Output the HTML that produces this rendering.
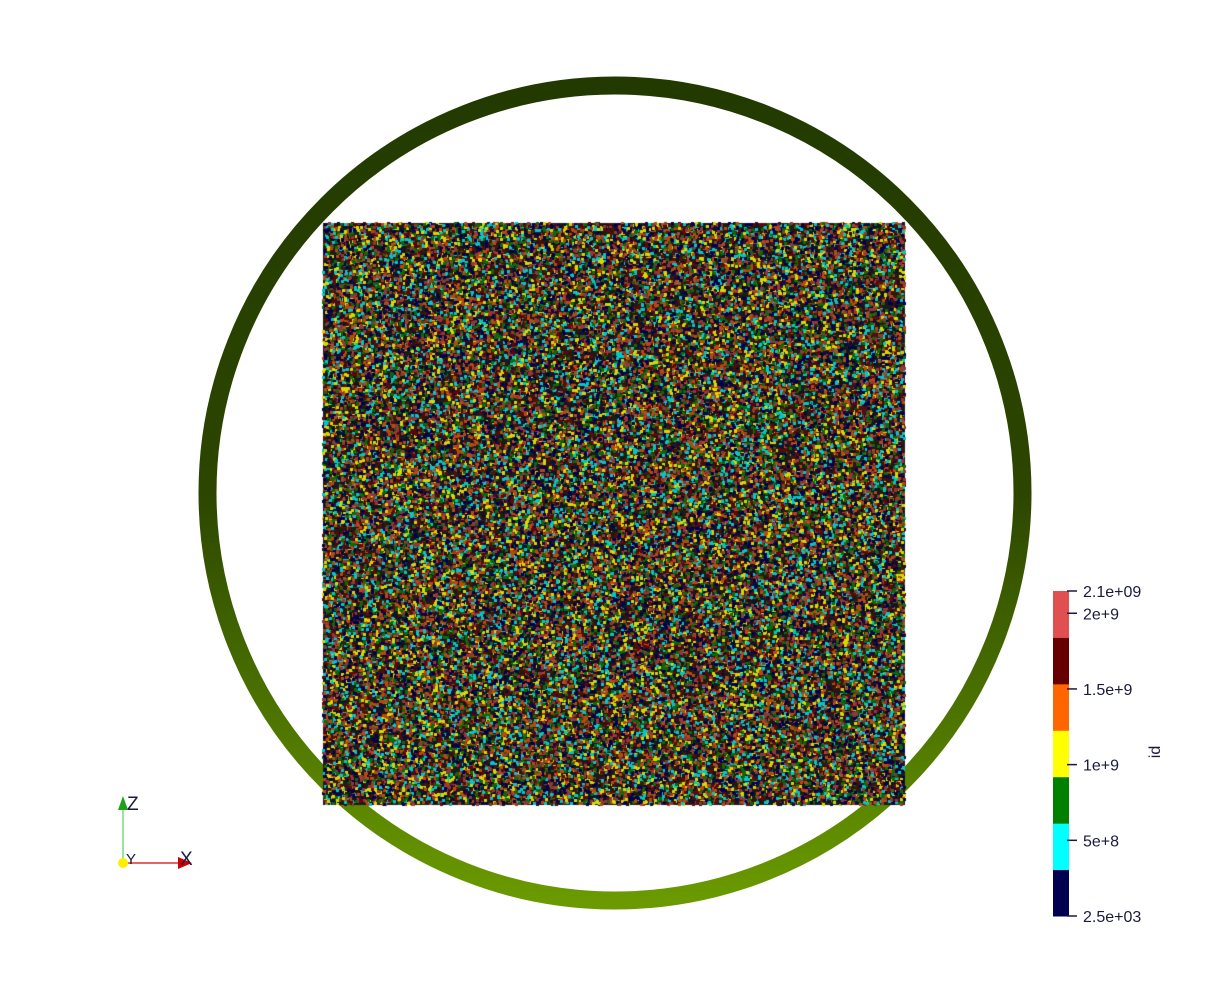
<!DOCTYPE html>
<html><head><meta charset="utf-8"><style>
html,body{margin:0;padding:0;background:#fff;}
body{width:1229px;height:988px;position:relative;overflow:hidden;font-family:"Liberation Sans",sans-serif;}
</style></head><body>
<svg id="scene" width="1229" height="988" style="position:absolute;left:0;top:0">
<defs>
<linearGradient id="ringGrad" x1="0" y1="0" x2="0" y2="1">
<stop offset="0" stop-color="#223a00"/><stop offset="0.5" stop-color="#2c4600"/><stop offset="0.75" stop-color="#4a7000"/><stop offset="1" stop-color="#6a9a00"/>
</linearGradient>
</defs>
<circle cx="615" cy="493" r="407.5" fill="none" stroke="url(#ringGrad)" stroke-width="18"/>
<g>
<line x1="123" y1="863" x2="123" y2="808" stroke="#33cc33" stroke-width="1"/>
<polygon points="118,810 128,810 123,796" fill="#1aa31a"/>
<line x1="123" y1="863" x2="180" y2="863" stroke="#e03030" stroke-width="1.5"/>
<polygon points="178,857 178,869 192,863" fill="#cc0000"/>
<circle cx="123" cy="863" r="5" fill="#ffee00"/>
<text x="127" y="810" font-size="19" fill="#1a1a3a" font-family="Liberation Sans, sans-serif">Z</text>
<text x="126" y="864" font-size="15" fill="#1a1a3a" font-family="Liberation Sans, sans-serif">Y</text>
<text x="180" y="865" font-size="19" fill="#1a1a3a" font-family="Liberation Sans, sans-serif">X</text>
</g>
<g id="colorbar"></g>
<text transform="translate(1160,752) rotate(-90)" text-anchor="middle" font-size="16" fill="#1a1a3a" font-family="Liberation Sans, sans-serif">id</text>
</svg>
<canvas id="pts" width="590" height="590" style="position:absolute;left:319px;top:219px"></canvas>
<script>
const binColors=["#000050","#00ffff","#008000","#ffff00","#ff6600","#660000","#e05050"];
const tickLabels=["2.5e+03","5e+8","1e+9","1.5e+9","2e+9","2.1e+09"];
const tickValues=[2500,5e8,1e9,1.5e9,2e9,2.147e9];
const vMin=2500, vMax=2.147e9;
const barTop=591, barBot=916, barX=1053, barW=16;
const ns="http://www.w3.org/2000/svg";
const cb=document.getElementById('colorbar');
function yOf(v){return barBot-(v-vMin)/(vMax-vMin)*(barBot-barTop);}
const segH=(barBot-barTop)/binColors.length;
binColors.forEach((c,i)=>{
  const r=document.createElementNS(ns,'rect');
  
  
  r.setAttribute('x',barX);r.setAttribute('y',barBot-(i+1)*segH);
  r.setAttribute('width',barW);r.setAttribute('height',segH+0.5);r.setAttribute('fill',c);
  cb.appendChild(r);
});
tickValues.forEach((v,i)=>{
  const y=yOf(v);
  const l=document.createElementNS(ns,'line');
  
  
  l.setAttribute('x1',barX+barW-2);l.setAttribute('x2',barX+barW+8);
  l.setAttribute('y1',y);l.setAttribute('y2',y);l.setAttribute('stroke','#1a1a3a');l.setAttribute('stroke-width','1.5');
  cb.appendChild(l);
  const t=document.createElementNS(ns,'text');
  
  
  t.setAttribute('x',1083);t.setAttribute('y',y+6);t.setAttribute('font-size','16');
  t.setAttribute('fill','#1a1a3a');t.setAttribute('font-family','Liberation Sans, sans-serif');
  t.textContent=tickLabels[i];cb.appendChild(t);
});
// particle texture (decorative)
const cv=document.getElementById('pts'),ctx=cv.getContext('2d');
let s=12345;
function rnd(){s|=0;s=s+0x6D2B79F5|0;let t=Math.imul(s^s>>>15,1|s);t=t+Math.imul(t^t>>>7,61|t)^t;return((t^t>>>14)>>>0)/4294967296;}
ctx.fillStyle='#1e1a14';ctx.fillRect(4,4,582,582);
const dotCols=["#000050","#00c8c8","#0a6a0a","#d8d800","#b84a10","#5a0a0a","#903838","#101030"];
for(let i=0;i<70000;i++){
  ctx.fillStyle=dotCols[Math.floor(rnd()*dotCols.length)];
  const x=Math.round(3+rnd()*581),y=Math.round(3+rnd()*581);
  ctx.fillRect(x,y,3,3);
}
</script>
</body></html>
